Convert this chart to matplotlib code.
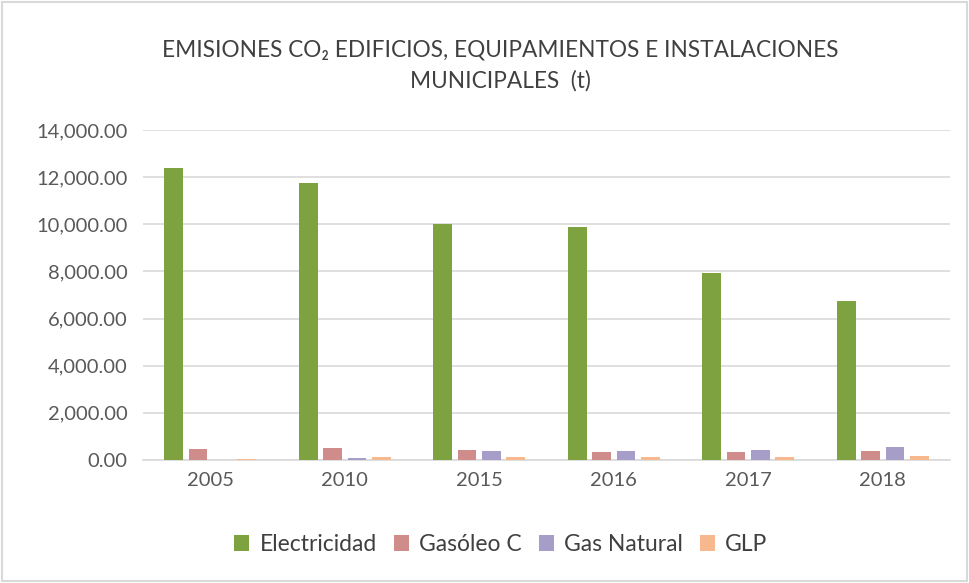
import matplotlib
matplotlib.use("Agg")
import matplotlib.pyplot as plt
import numpy as np
from matplotlib.patches import Rectangle

plt.rcParams['font.family'] = ['Lato', 'DejaVu Sans']

years = ["2005", "2010", "2015", "2016", "2017", "2018"]
electricidad = [12400, 11750, 10000, 9900, 7950, 6750]
gasoleo_c = [450, 520, 410, 350, 350, 380]
gas_natural = [0, 80, 370, 370, 440, 565]
glp = [50, 120, 110, 110, 110, 170]

series_names = ["Electricidad", "Gasóleo C", "Gas Natural", "GLP"]
series_values = [electricidad, gasoleo_c, gas_natural, glp]
colors = ["#7DA23F", "#D08C8B", "#A79DC9", "#F8B88E"]

fig = plt.figure(figsize=(9.69, 5.83), dpi=100)
ax = fig.add_axes([143/969, 123/583, (950-143)/969, (460-130)/583])

x = np.arange(len(years))
slot = 0.182
width = 0.141
for i, (name, vals, c) in enumerate(zip(series_names, series_values, colors)):
    ax.bar(x + (i - 1.5) * slot, vals, width=width, color=c, label=name, zorder=3)

ax.set_xlim(-0.5, len(years) - 0.5)
ax.set_ylim(0, 14000)
ax.set_yticks(np.arange(0, 14001, 2000))
ax.set_yticklabels([f"{v:,.2f}" for v in np.arange(0, 14001, 2000)])
ax.set_xticks(x)
ax.set_xticklabels(years)
ax.grid(axis='y', color='#D9D9D9', linewidth=1.2, zorder=0)
for s in ['top', 'right', 'left']:
    ax.spines[s].set_visible(False)
ax.spines['bottom'].set_color('#D9D9D9')
ax.spines['bottom'].set_linewidth(1.2)
ax.tick_params(axis='both', length=0, labelsize=14.5, colors='#595959')
ax.tick_params(axis='x', pad=9)
ax.tick_params(axis='y', pad=11)

fig.text(0.516, 0.915, "EMISIONES CO₂ EDIFICIOS, EQUIPAMIENTOS E INSTALACIONES",
         ha='center', va='center', fontsize=16.3, color='#404040')
fig.text(0.516, 0.862, "MUNICIPALES  (t)", ha='center', va='center', fontsize=16.3, color='#404040')

leg = fig.legend(loc='center', bbox_to_anchor=(0.517, 0.066), ncol=4, frameon=False,
                 fontsize=16.5, handlelength=0.65, handleheight=0.65, handletextpad=0.45,
                 columnspacing=0.75, labelcolor='#404040')

fig.patches.append(Rectangle((0.002, 0.003), 0.996, 0.994, transform=fig.transFigure,
                             fill=False, edgecolor='#D9D9D9', linewidth=1.5))

fig.savefig("out.png", dpi=100)
